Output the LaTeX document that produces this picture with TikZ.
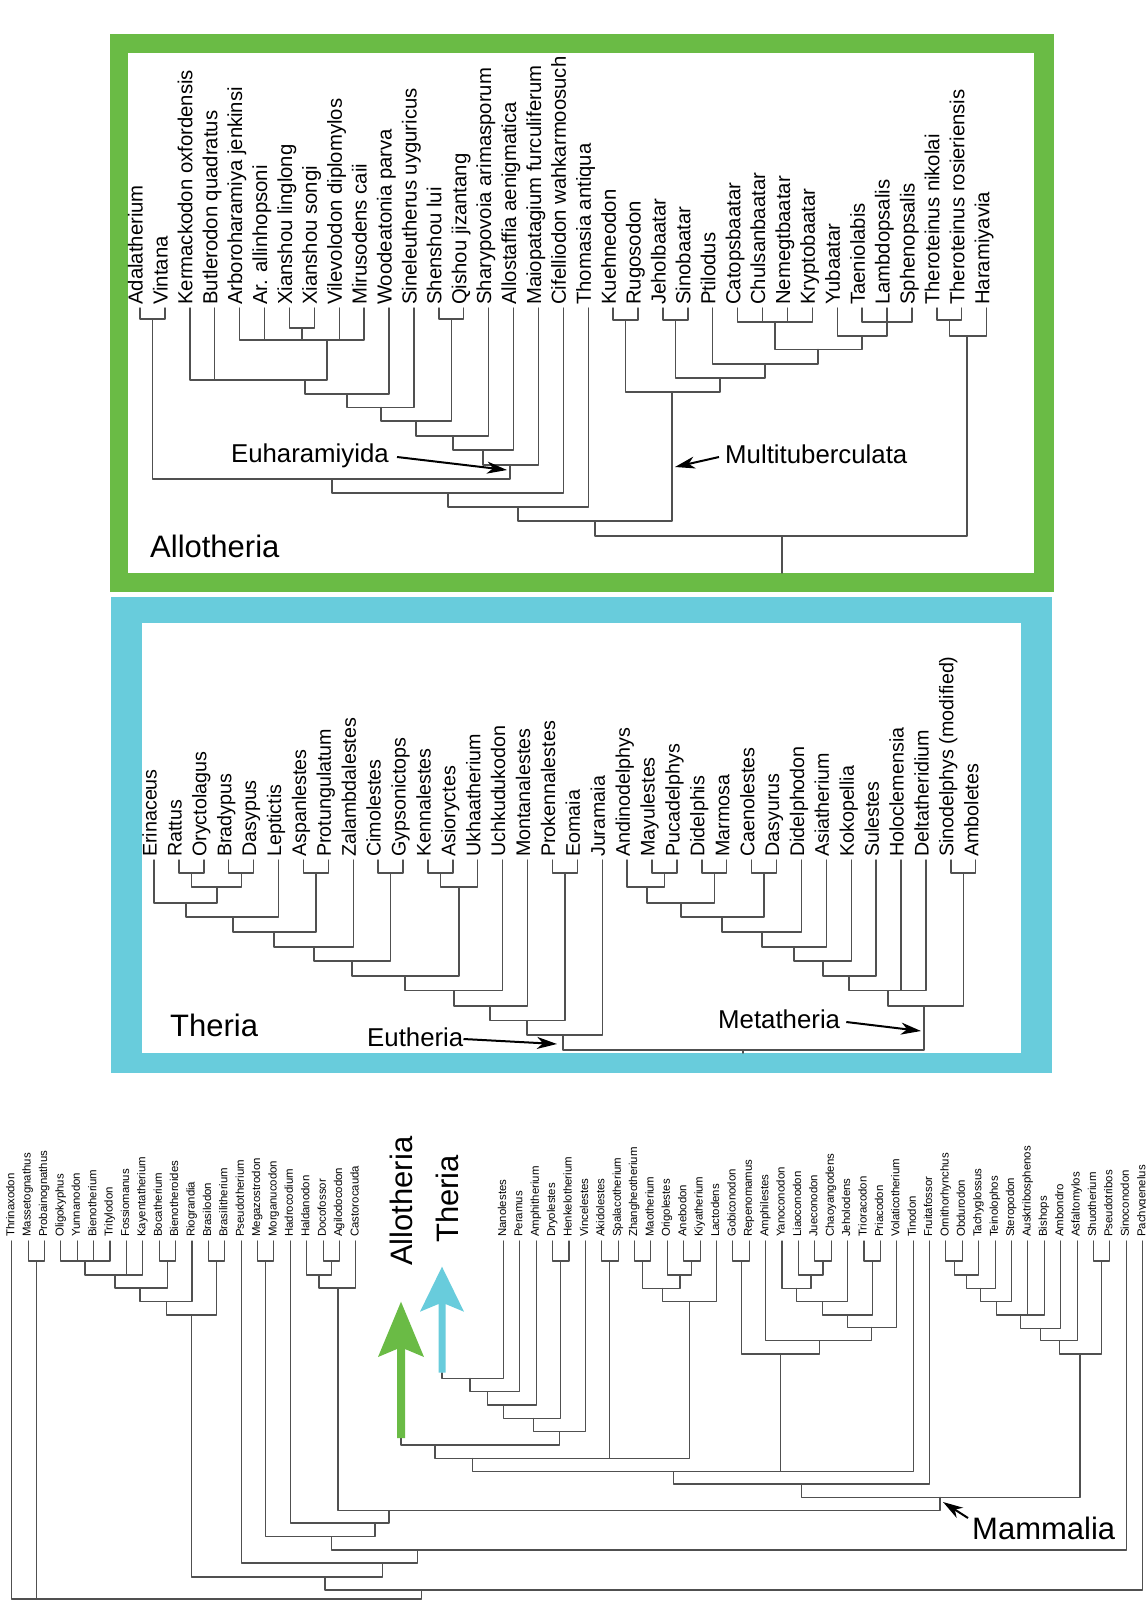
\documentclass[tikz,border=0pt]{standalone}
\usepackage{fontspec}
\setmainfont{Liberation Sans}
\usetikzlibrary{arrows.meta}
\definecolor{boxgreen}{RGB}{106,187,69}
\definecolor{boxblue}{RGB}{104,204,220}
\definecolor{brgray}{RGB}{80,80,80}
\tikzset{
  br/.style={draw=brgray, line width=1.4pt, line cap=round, line join=round},
  brs/.style={draw=brgray, line width=1.1pt, line cap=round, line join=round},
  toplab/.style={rotate=90, anchor=mid west, inner sep=0pt, font=\fontsize{20.3}{23}\selectfont},
  midlab/.style={rotate=90, anchor=mid west, inner sep=0pt, font=\fontsize{19.7}{22}\selectfont},
  botlab/.style={rotate=90, anchor=mid west, inner sep=0pt, font=\fontsize{11.4}{13}\selectfont},
  titletext/.style={inner sep=0pt, font=\fontsize{31}{34}\selectfont},
  cladetext/.style={inner sep=0pt, font=\fontsize{25.8}{28}\selectfont},
  ptr/.style={draw=black, line width=2pt, -{Stealth[length=20pt,width=12pt,inset=6pt]}},
}
\begin{document}
\begin{tikzpicture}[x=1pt,y=-1pt]
\useasboundingbox (0,0) rectangle (1145,1602);
\fill[white] (0,0) rectangle (1145,1602);
% ---------- boxes
\fill[boxgreen] (110,34) rectangle (1054,592);
\fill[white] (128,53) rectangle (1034,573);
\fill[boxblue] (111,597) rectangle (1052,1073);
\fill[white] (142,623) rectangle (1021,1053);

% ================= TOP TREE (Allotheria)
\foreach \n [count=\i from 0] in {Adalatherium, Vintana, Kermackodon oxfordensis, Butlerodon quadratus, Arboroharamiya jenkinsi, Ar. allinhopsoni, Xianshou linglong, Xianshou songi, Vilevolodon diplomylos, Mirusodens caii, Woodeatonia parva, Sineleutherus uyguricus, Shenshou lui, Qishou jizantang, Sharypovoia arimasporum, Allostaffia aenigmatica, Maiopatagium furculiferum, Cifelliodon wahkarmoosuch, Thomasia antiqua, Kuehneodon, Rugosodon, Jeholbaatar, Sinobaatar, Ptilodus, Catopsbaatar, Chulsanbaatar, Nemegtbaatar, Kryptobaatar, Yubaatar, Taeniolabis, Lambdopsalis, Sphenopsalis, Theroteinus nikolai, Theroteinus rosieriensis, Haramiyavia}{
  \coordinate (t\i) at ({140+24.9*\i},308);
  \node[toplab] (tl\i) at ({140+24.9*\i},305) {\n};
}
\coordinate (A1) at (152.4,319);
\coordinate (A2) at (301.8,328);
\coordinate (A3) at (327,340);
\coordinate (A4) at (305,380);
\coordinate (A5) at (347,394);
\coordinate (A6) at (381,407.5);
\coordinate (A7) at (451.2,319);
\coordinate (A8) at (416,421);
\coordinate (A9) at (453,436);
\coordinate (A10) at (483,450);
\coordinate (A11) at (510,465);
\coordinate (A12) at (332,479);
\coordinate (A13) at (448,493);
\coordinate (A14) at (518,507);
\coordinate (B1) at (625.5,320);
\coordinate (B2) at (675.3,320);
\coordinate (B3) at (775,322);
\coordinate (B4) at (887,322);
\coordinate (B5) at (862,336);
\coordinate (B6) at (818,349.5);
\coordinate (B7) at (765,364);
\coordinate (B8) at (720,378);
\coordinate (B9) at (672,392);
\coordinate (A15) at (595,521);
\coordinate (C1) at (949.2,320);
\coordinate (C2) at (967,336);
\coordinate (R1) at (782,536);
\coordinate (R1b) at (782,573);
\foreach \p/\c in {A1/t0, A1/t1, A2/t6, A2/t7, A3/t4, A3/t5, A3/A2, A3/t8, A3/t9, A4/t2, A4/t3, A4/A3, A5/A4, A5/t10, A6/A5, A6/t11, A7/t12, A7/t13, A8/A6, A8/A7, A9/A8, A9/t14, A10/A9, A10/t15, A11/A10, A11/t16, A12/A1, A12/A11, A13/A12, A13/t17, A14/A13, A14/t18, B1/t19, B1/t20, B2/t21, B2/t22, B3/t24, B3/t25, B3/t26, B3/t27, B4/t29, B4/t30, B4/t31, B5/t28, B5/B4, B6/B3, B6/B5, B7/t23, B7/B6, B8/B2, B8/B7, B9/B1, B9/B8, A15/A14, A15/B9, C1/t32, C1/t33, C2/C1, C2/t34, R1/A15, R1/C2}
  \draw[br] (\p) -| (\c);
\draw[br] (R1) -- (R1b);
\node[titletext, anchor=base west] (allo) at (150,557) {Allotheria};
\node[cladetext, anchor=base east] (euh) at (389,462) {Euharamiyida};
\coordinate (euhtip) at (507,470);
\draw[ptr] (euh.east |- 0,457) ++(8,0) -- (euhtip);
\node[cladetext, anchor=base west] (mult) at (725,463) {Multituberculata};
\coordinate (multtip) at (675,467);
\draw[ptr] (mult.west |- 0,457) ++(-6,0) -- (multtip);

% ================= MIDDLE TREE (Theria)
\foreach \n [count=\i from 0] in {Erinaceus, Rattus, Oryctolagus, Bradypus, Dasypus, Leptictis, Aspanlestes, Protungulatum, Zalambdalestes, Cimolestes, Gypsonictops, Kennalestes, Asioryctes, Ukhaatherium, Uchkudukodon, Montanalestes, Prokennalestes, Eomaia, Juramaia, Andinodelphys, Mayulestes, Pucadelphys, Didelphis, Marmosa, Caenolestes, Dasyurus, Didelphodon, Asiatherium, Kokopellia, Sulestes, Holoclemensia, Deltatheridium, {Sinodelphys (modified)}, Amboletes}{
  \coordinate (m\i) at ({154+24.9*\i},860);
  \node[midlab] (ml\i) at ({154+24.9*\i},857) {\n};
}
\coordinate (D1) at (191.4,873);
\coordinate (D2) at (241.2,873);
\coordinate (D3) at (217,887);
\coordinate (D4) at (186,903);
\coordinate (D5) at (233,917);
\coordinate (D6) at (315.9,873);
\coordinate (D7) at (274,932);
\coordinate (D8) at (314,947);
\coordinate (D9) at (390.5,873);
\coordinate (D10) at (352,961);
\coordinate (D11) at (440.4,873);
\coordinate (D12) at (459,887);
\coordinate (D13) at (405,976);
\coordinate (D14) at (454,990.7);
\coordinate (D15) at (490,1006);
\coordinate (D16) at (564.9,873);
\coordinate (D17) at (527,1020.7);
\coordinate (D18) at (563,1035);
\coordinate (E1) at (664.5,873);
\coordinate (E2) at (647,887);
\coordinate (E3) at (714.3,873);
\coordinate (E4) at (681,903);
\coordinate (E5) at (764,873);
\coordinate (E6) at (722,917);
\coordinate (E7) at (762,932);
\coordinate (E8) at (794,947);
\coordinate (E9) at (823,961);
\coordinate (E10) at (849,976);
\coordinate (E11) at (888,990.7);
\coordinate (E12) at (963.3,873);
\coordinate (E13) at (924,1006);
\coordinate (R2) at (743,1050);
\coordinate (R2b) at (743,1053);
\foreach \p/\c in {D1/m1, D1/m2, D2/m3, D2/m4, D3/D1, D3/D2, D4/m0, D4/D3, D5/D4, D5/m5, D6/m6, D6/m7, D7/D5, D7/D6, D8/D7, D8/m8, D9/m9, D9/m10, D10/D8, D10/D9, D11/m11, D11/m12, D12/D11, D12/m13, D13/D10, D13/D12, D14/D13, D14/m14, D15/D14, D15/m15, D16/m16, D16/m17, D17/D15, D17/D16, D18/D17, D18/m18, E1/m20, E1/m21, E2/m19, E2/E1, E3/m22, E3/m23, E4/E2, E4/E3, E5/m24, E5/m25, E6/E4, E6/E5, E7/E6, E7/m26, E8/E7, E8/m27, E9/E8, E9/m28, E10/E9, E10/m29, E11/E10, E11/m30, E11/m31, E12/m32, E12/m33, E13/E11, E13/E12, R2/D18, R2/E13}
  \draw[br] (\p) -| (\c);
\draw[br] (R2) -- (R2b);
\node[titletext, anchor=base west] (ther) at (170,1036) {Theria};
\node[cladetext, anchor=base west] (euth) at (367,1046) {Eutheria};
\coordinate (euthtip) at (557,1044);
\draw[ptr] (euth.east |- 0,1039) -- (euthtip);
\node[cladetext, anchor=base west] (meta) at (718,1028) {Metatheria};
\coordinate (metatip) at (921,1031);
\draw[ptr] (meta.east |- 0,1022) ++(6,0) -- (metatip);

% ================= BOTTOM TREE
\foreach \n [count=\i from 0] in {Thrinaxodon, Massetognathus, Probainognathus, Oligokyphus, Yunnanodon, Bienotherium, Tritylodon, Fossiomanus, Kayentatherium, Bocatherium, Bienotheroides, Riograndia, Brasilodon, Brasilitherium, Pseudotherium, Megazostrodon, Morganucodon, Hadrocodium, Haldanodon, Docofossor, Agilodocodon, Castorocauda}{
  \coordinate (b\i) at ({11.7+16.39*\i},1241);
  \node[botlab] (bl\i) at ({11.7+16.39*\i},1237) {\n};
}
\foreach \n [count=\i from 30] in {Nanolestes, Peramus, Amphitherium, Dryolestes, Henkelotherium, Vincelestes, Akidolestes, Spalacotherium, Zhangheotherium, Maotherium, Origolestes, Anebodon, Kiyatherium, Lactodens, Gobiconodon, Repenomamus, Amphilestes, Yanoconodon, Liaoconodon, Jueconodon, Chaoyangodens, Jeholodens, Trioracodon, Priacodon, Volaticotherium, Tinodon, Fruitafossor, Ornithorhynchus, Obdurodon, Tachyglossus, Teinolophos, Steropodon, Ausktribosphenos, Bishops, Ambondro, Asfaltomylos, Shuotherium, Pseudotribos, Sinoconodon, Pachygenelus}{
  \coordinate (b\i) at ({11.7+16.39*\i},1241);
  \node[botlab] (bl\i) at ({11.7+16.39*\i},1237) {\n};
}
\coordinate (F1) at (36.3,1261);
\coordinate (F2) at (85,1261);
\coordinate (F3) at (115,1275);
\coordinate (F4) at (167.4,1261);
\coordinate (F5) at (140,1288);
\coordinate (F6) at (166.7,1301.7);
\coordinate (F7) at (216.6,1261);
\coordinate (F8) at (191.7,1315);
\coordinate (F9) at (265.8,1261);
\coordinate (F10) at (331.3,1261);
\coordinate (F11) at (319,1275);
\coordinate (F12) at (338,1288);
\coordinate (TH) at (442,1372.7);
\coordinate (AL) at (401,1438);
\coordinate (G1) at (560.8,1261);
\coordinate (G2) at (470,1378.3);
\coordinate (G3) at (487.3,1391.7);
\coordinate (G4) at (503.3,1405);
\coordinate (G5) at (533.3,1418.3);
\coordinate (G6) at (559.3,1431.7);
\coordinate (G7) at (435,1445);
\coordinate (G8) at (609.9,1261);
\coordinate (G9) at (642.7,1261);
\coordinate (G10) at (691.9,1261);
\coordinate (G11) at (680,1275);
\coordinate (G12) at (662.7,1288.3);
\coordinate (G13) at (689.3,1301.7);
\coordinate (G14) at (472.7,1458.3);
\coordinate (H1) at (741.1,1261);
\coordinate (H2) at (823,1261);
\coordinate (H3) at (811,1275);
\coordinate (H4) at (796.7,1288.3);
\coordinate (H5) at (822.7,1301.7);
\coordinate (H6) at (872.2,1261);
\coordinate (H7) at (847.7,1315);
\coordinate (H8) at (871.7,1327.3);
\coordinate (H9) at (819.3,1340.7);
\coordinate (H10) at (780.7,1354);
\coordinate (G15) at (673.3,1471.7);
\coordinate (G16) at (801.7,1484);
\coordinate (K1) at (954.1,1261);
\coordinate (K2) at (966.7,1275);
\coordinate (K3) at (980.7,1288.3);
\coordinate (K4) at (996.7,1301.7);
\coordinate (K5) at (1020.7,1315);
\coordinate (K6) at (1040.7,1328.3);
\coordinate (K7) at (1059.3,1340.7);
\coordinate (K8) at (1101.7,1261);
\coordinate (K9) at (1080,1354);
\coordinate (M1) at (940,1497.3);
\coordinate (S) at (389,1510.7);
\coordinate (T) at (375,1523);
\coordinate (U) at (331.7,1536.7);
\coordinate (V) at (417.3,1550);
\coordinate (W) at (382.7,1563);
\coordinate (Y) at (325,1577);
\coordinate (X) at (421.7,1590);
\coordinate (RT) at (36.3,1599);
\foreach \p/\c in {F1/b1, F1/b2, F2/b3, F2/b4, F2/b5, F2/b6, F3/F2, F3/b7, F3/b8, F4/b9, F4/b10, F5/F3, F5/F4, F6/F5, F6/b11, F7/b12, F7/b13, F8/F6, F8/F7, F9/b15, F9/b16, F10/b19, F10/b20, F11/b18, F11/F10, F12/F11, F12/b21, G1/b33, G1/b34, G2/TH, G2/b30, G3/G2, G3/b31, G4/G3, G4/b32, G5/G4, G5/G1, G6/G5, G6/b35, G7/AL, G7/G6, G8/b36, G8/b37, G9/b38, G9/b39, G10/b41, G10/b42, G11/b40, G11/G10, G12/G9, G12/G11, G13/G12, G13/b43, G14/G7, G14/G8, G14/G13, H1/b44, H1/b45, H2/b49, H2/b50, H3/b48, H3/H2, H4/b47, H4/H3, H5/H4, H5/b51, H6/b52, H6/b53, H7/H5, H7/H6, H8/H7, H8/b54, H9/b46, H9/H8, H10/H1, H10/H9, G15/G14, G15/H10, G15/b55, G16/G15, G16/b56, K1/b57, K1/b58, K2/K1, K2/b59, K3/K2, K3/b60, K4/K3, K4/b61, K5/K4, K5/b62, K5/b63, K6/K5, K6/b64, K7/K6, K7/b65, K8/b66, K8/b67, K9/K7, K9/K8, M1/G16, M1/K9, S/F12, S/M1, T/b17, T/S, U/F9, U/T, V/U, V/b68, W/b14, W/V, Y/F8, Y/W, X/Y, X/b69, RT/b0, RT/F1, RT/X}
  \draw[brs] (\p) -| (\c);

% coloured arrows
\fill[boxgreen] (397,1438) -- (397,1349) -- (378,1357) -- (401,1301.7) -- (424,1357) -- (405,1349) -- (405,1438) -- cycle;
\fill[boxblue] (438.5,1372.7) -- (438.5,1304) -- (420,1311.7) -- (442,1266.7) -- (464,1311.7) -- (445.5,1304) -- (445.5,1372.7) -- cycle;
\node[titletext, rotate=90, anchor=base west] (allob) at (412,1266) {Allotheria};
\node[titletext, rotate=90, anchor=base west] (therb) at (458,1243) {Theria};
% Mammalia
\node[titletext, anchor=base west] (mamm) at (972,1539) {Mammalia};
\coordinate (mammtip) at (943,1502);
\draw[ptr] (968,1518) -- (mammtip);
\end{tikzpicture}
\end{document}
